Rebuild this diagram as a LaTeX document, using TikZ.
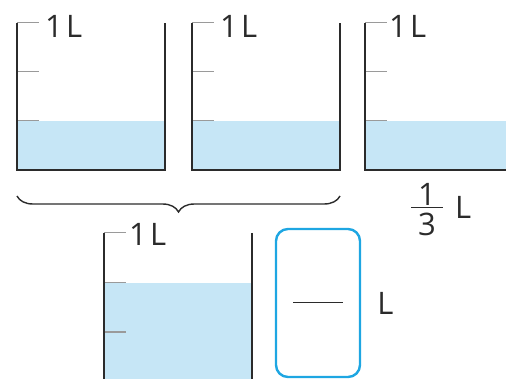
\documentclass[tikz,border=0pt]{standalone}
\usepackage{fontspec}
\setmainfont{Open Sans}
\usepackage{tikz}
\usetikzlibrary{decorations.pathreplacing, positioning}
\definecolor{waterblue}{HTML}{C6E6F6}
\definecolor{boxblue}{HTML}{1EA6E2}
\definecolor{tickgray}{HTML}{9A9A9A}
\definecolor{wallgray}{HTML}{2B2B2B}

\begin{document}
\begin{tikzpicture}[x=1pt,y=-1pt,
    wall/.style={wallgray, line width=2.4pt},
    gradtick/.style={tickgray, line width=1pt},
    water/.style={fill=waterblue},
    unit/.style={font=\fontsize{31}{31}\selectfont, inner sep=0pt, text=wallgray}]
  \useasboundingbox (0,0) rectangle (506,379);

  % two full beakers
  \foreach \x/\n in {17/a, 192/b} {
    \fill[water] (\x,121) rectangle (\x+148,170);
    \foreach \y in {23,72,121}
      \draw[gradtick] (\x,\y) -- (\x+22,\y);
    \draw[wall] (\x,23) -- (\x,170) -- (\x+148,170) -- (\x+148,23);
    \node[unit, anchor=west] (liter\n) at (\x+28,26) {1\hspace{0.1em}L};
  }

  % cut beaker on the right
  \fill[water] (365,121) rectangle (506,170);
  \foreach \y in {23,72,121}
    \draw[gradtick] (365,\y) -- (387,\y);
  \draw[wall] (365,23) -- (365,170) -- (506,170);
  \node[unit, anchor=west] (literc) at (389,26) {1\hspace{0.1em}L};

  % brace under the two beakers
  \draw[wallgray, line width=1.4pt, decorate,
        decoration={brace, mirror, amplitude=16pt}] (17,196) -- (340,196);

  % one third
  \node[unit] (thirdnum) at (427,194) {1};
  \node[unit] (thirdden) at (427,224) {3};
  \draw[wallgray, line width=1pt] (411,208) -- (443,208);
  \node[unit, anchor=west] (thirdL) at (455,207) {L};

  % beaker at the bottom
  \fill[water] (104,283) rectangle (252,379);
  \foreach \y in {233,283,332}
    \draw[gradtick] (104,\y) -- (126,\y);
  \draw[wall] (104,233) -- (104,379);
  \draw[wall] (252,233) -- (252,379);
  \node[unit, anchor=west] (literd) at (129,234) {1\hspace{0.1em}L};

  % answer box
  \node[draw=boxblue, line width=2.4pt, rounded corners=12pt,
        minimum width=84pt, minimum height=148pt] (answer) at (318,303) {};
  \draw[wallgray, line width=1pt] ([xshift=-25pt]answer.center) -- ([xshift=25pt]answer.center);
  \node[unit, right=16pt of answer] (answerL) {L};
\end{tikzpicture}
\end{document}
